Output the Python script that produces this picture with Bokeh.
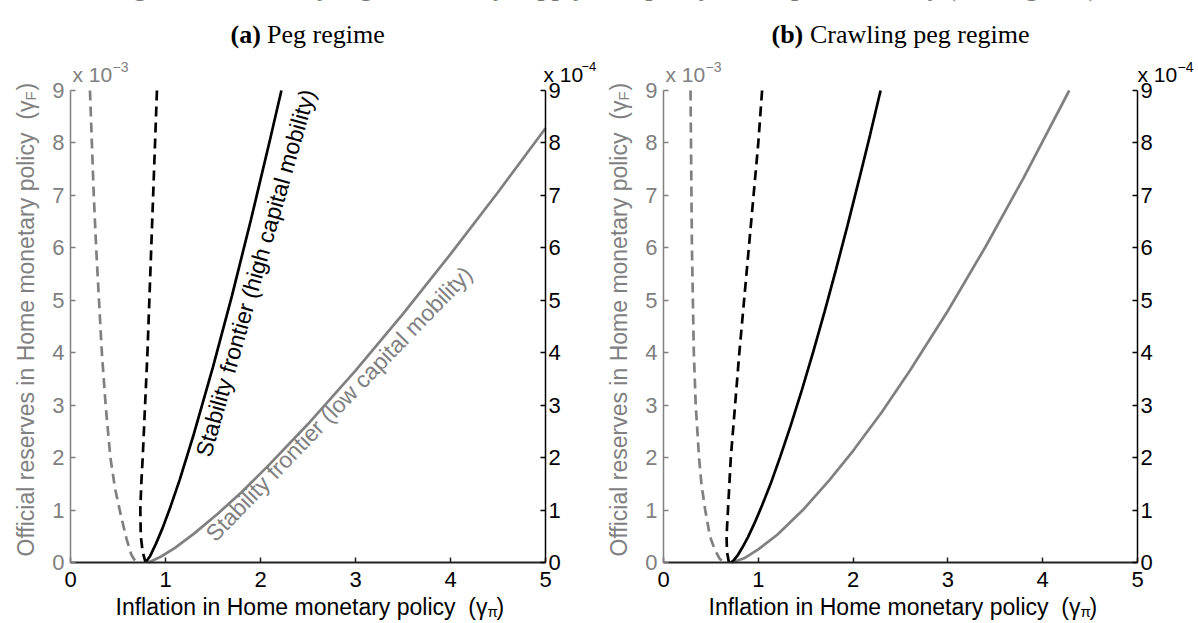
import math
from bokeh.plotting import figure
from bokeh.models import Range1d, LinearAxis, FixedTicker, Label
from bokeh.layouts import row
from bokeh.embed import file_html
from bokeh.resources import INLINE

# ---------------- data ----------------
x_ticks = [0, 1, 2, 3, 4, 5]
y_ticks = [0, 1, 2, 3, 4, 5, 6, 7, 8, 9]

# (a) Peg regime
peg_gray_dash_x = [0.205, 0.225, 0.245, 0.27, 0.30, 0.33, 0.37, 0.42, 0.47, 0.53, 0.59, 0.64, 0.69]
peg_gray_dash_y = [9.0, 8.0, 7.0, 6.0, 5.0, 4.0, 3.0, 2.0, 1.4, 0.9, 0.45, 0.15, 0.0]
peg_black_dash_x = [0.91, 0.89, 0.87, 0.85, 0.83, 0.81, 0.785, 0.76, 0.745, 0.735, 0.74, 0.76, 0.79]
peg_black_dash_y = [9.0, 8.0, 7.0, 6.0, 5.0, 4.0, 3.0, 2.0, 1.5, 1.0, 0.5, 0.2, 0.0]
peg_black_x = [0.79, 0.84, 0.90, 0.97, 1.05, 1.15, 1.30, 1.50, 1.70, 1.90, 2.10, 2.22]
peg_black_y = [0.0, 0.13, 0.36, 0.66, 1.05, 1.58, 2.46, 3.73, 5.09, 6.54, 8.06, 9.0]
peg_gray_x = [0.82, 0.95, 1.10, 1.30, 1.55, 1.80, 2.10, 2.50, 3.00, 3.50, 4.00, 4.50, 5.00]
peg_gray_y = [0.0, 0.11, 0.28, 0.55, 0.93, 1.34, 1.88, 2.64, 3.66, 4.74, 5.88, 7.06, 8.28]

# (b) Crawling peg regime
crawl_gray_dash_x = [0.285, 0.29, 0.295, 0.30, 0.31, 0.32, 0.34, 0.375, 0.40, 0.44, 0.49, 0.54, 0.59, 0.63]
crawl_gray_dash_y = [9.0, 8.0, 7.0, 6.0, 5.0, 4.0, 3.0, 2.0, 1.5, 1.0, 0.5, 0.25, 0.08, 0.0]
crawl_black_dash_x = [1.04, 1.00, 0.95, 0.90, 0.85, 0.80, 0.755, 0.71, 0.68, 0.665, 0.67, 0.69]
crawl_black_dash_y = [9.0, 8.0, 7.0, 6.0, 5.0, 4.0, 3.0, 2.0, 1.0, 0.5, 0.2, 0.0]
crawl_black_x = [0.71, 0.74, 0.78, 0.83, 0.89, 0.96, 1.04, 1.13, 1.23, 1.34, 1.46, 1.58,
                 1.70, 1.82, 1.94, 2.06, 2.18, 2.29]
crawl_black_y = [0.0, 0.04, 0.13, 0.28, 0.48, 0.75, 1.09, 1.50, 2.01, 2.60, 3.29, 4.02,
                 4.79, 5.59, 6.42, 7.28, 8.16, 9.0]
crawl_gray_x = [0.72, 0.85, 1.00, 1.20, 1.47, 1.75, 2.00, 2.30, 2.60, 3.00, 3.40, 3.80, 4.28]
crawl_gray_y = [0.0, 0.08, 0.25, 0.53, 1.0, 1.57, 2.13, 2.86, 3.66, 4.80, 6.03, 7.34, 9.0]

# ---------------- texts ----------------
title_left = "Figure 4. Instability regions: money supply"
title_right = "policy and capital mobility (two regimes)"
ylab_main = "Official reserves in Home monetary policy\u00a0\u00a0(\u03b3"
ylab_sub = "F"
xlab_main = "Inflation in Home monetary policy\u00a0\u00a0(\u03b3"
xlab_sub = "\u03c0"
label_high = "Stability frontier (high capital mobility)"
label_low = "Stability frontier (low capital mobility)"

GRAY = "#808080"
BLACK = "#000000"
AXIS_DARK = "#222222"
SANS = "Liberation Sans"
SERIF = "Liberation Serif"

W, H = 599, 623
TOP, BOTTOM = 90, 61
FH = H - TOP - BOTTOM
TICK_FS = "22px"


def make_panel(left, right):
    fw = W - left - right
    ppx = fw / 5.0
    ppy = FH / 9.0

    def dx(px):
        return (px - left) / ppx

    def dy(py):
        return (TOP + FH - py) / ppy

    p = figure(width=W, height=H,
               x_range=Range1d(dx(0), dx(W)), y_range=Range1d(dy(H), dy(0)),
               output_backend="svg", toolbar_location=None,
               x_axis_location=None, y_axis_location=None,
               min_border=0, outline_line_color=None,
               background_fill_color="white", border_fill_color="white")
    p.xgrid.visible = False
    p.ygrid.visible = False
    p.extra_y_ranges = {"right": Range1d(dy(H), dy(0))}

    xa = LinearAxis(fixed_location=0, bounds=(0, 5), ticker=FixedTicker(ticks=x_ticks))
    la = LinearAxis(fixed_location=0, bounds=(0, 9), ticker=FixedTicker(ticks=y_ticks))
    ra = LinearAxis(fixed_location=5, bounds=(0, 9), ticker=FixedTicker(ticks=y_ticks),
                    y_range_name="right")
    p.add_layout(xa, "below")
    p.add_layout(la, "left")
    p.add_layout(ra, "right")

    for ax, col, lw, standoff in ((xa, AXIS_DARK, 2, 9), (la, GRAY, 1.5, 6), (ra, BLACK, 1.5, 3)):
        ax.axis_line_color = col
        ax.axis_line_width = lw
        ax.major_tick_line_color = col
        ax.major_tick_line_width = 1.5
        ax.major_tick_in = 5
        ax.major_tick_out = 0
        ax.minor_tick_line_color = None
        ax.major_label_text_font = SANS
        ax.major_label_text_font_size = TICK_FS
        ax.major_label_standoff = standoff
    xa.major_label_text_color = BLACK
    la.major_label_text_color = GRAY
    ra.major_label_text_color = BLACK

    def lab(px, py, text, size, color, font=SANS, align="left", baseline="alphabetic",
            angle=0.0, style="normal"):
        p.add_layout(Label(x=dx(px), y=dy(py), text=text, text_font=font,
                           text_font_size=size, text_color=color, text_align=align,
                           text_baseline=baseline, angle=angle, text_font_style=style))

    return p, lab


def curves(p, gdx, gdy, bdx, bdy, gx, gy, bx, by):
    p.line(gdx, gdy, line_color=GRAY, line_width=2.7, line_dash="10 6")
    p.line(gx, gy, line_color=GRAY, line_width=2.7)
    p.line(bdx, bdy, line_color=BLACK, line_width=2.7, line_dash="10 6", y_range_name="right")
    p.line(bx, by, line_color=BLACK, line_width=2.7, y_range_name="right")


# ---------------- panel (a) ----------------
pa, la_ = make_panel(70, 54)
curves(pa, peg_gray_dash_x, peg_gray_dash_y, peg_black_dash_x, peg_black_dash_y,
       peg_gray_x, peg_gray_y, peg_black_x, peg_black_y)

la_(110, -13, title_left, "26px", BLACK, font=SERIF, style="bold")
la_(230, 34, "(a)", "26px", BLACK, font=SERIF, style="bold")
la_(260, 34, "\u00a0Peg regime", "26px", BLACK, font=SERIF)
la_(72, 74, "x 10", "21px", GRAY)
la_(112, 66, "\u22123", "14px", GRAY)
la_(543, 74, "x 10", "21px", BLACK)
la_(581, 66, "\u22124", "13px", BLACK)
la_(25, 556, ylab_main, "23px", GRAY, angle=math.pi / 2)
la_(30, 100, ylab_sub, "15px", GRAY, angle=math.pi / 2)
la_(25, 90, ")", "23px", GRAY, angle=math.pi / 2)
la_(115, 606, xlab_main, "23px", BLACK)
la_(487, 611, xlab_sub, "15px", BLACK)
la_(496, 606, ")", "23px", BLACK)
la_(190, 452, label_high, "23px", BLACK, baseline="top", angle=math.radians(74))
la_(200, 528, label_low, "23px", GRAY, baseline="top", angle=math.radians(46))

# ---------------- panel (b) ----------------
pb, lb_ = make_panel(64, 61)
curves(pb, crawl_gray_dash_x, crawl_gray_dash_y, crawl_black_dash_x, crawl_black_dash_y,
       crawl_gray_x, crawl_gray_y, crawl_black_x, crawl_black_y)

lb_(498, -13, title_right, "26px", BLACK, font=SERIF, style="bold", align="right")
lb_(172, 34, "(b)", "26px", BLACK, font=SERIF, style="bold")
lb_(204, 34, "\u00a0Crawling peg regime", "26px", BLACK, font=SERIF)
lb_(66, 74, "x 10", "21px", GRAY)
lb_(106, 66, "\u22123", "14px", GRAY)
lb_(538, 74, "x 10", "21px", BLACK)
lb_(578, 66, "\u22124", "14px", BLACK)
lb_(19, 556, ylab_main, "23px", GRAY, angle=math.pi / 2)
lb_(24, 100, ylab_sub, "15px", GRAY, angle=math.pi / 2)
lb_(19, 90, ")", "23px", GRAY, angle=math.pi / 2)
lb_(109, 606, xlab_main, "23px", BLACK)
lb_(481, 611, xlab_sub, "15px", BLACK)
lb_(490, 606, ")", "23px", BLACK)

layout = row(pa, pb)
open("out.html", "w").write(file_html(layout, INLINE))
